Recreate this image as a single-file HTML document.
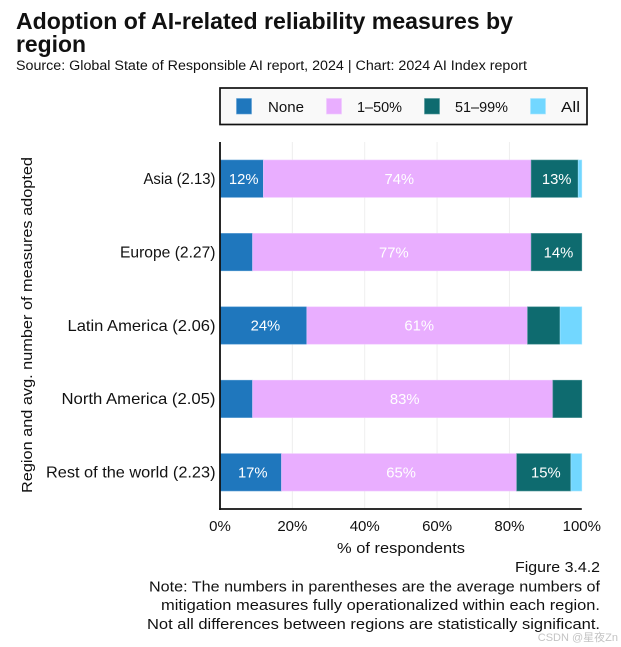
<!DOCTYPE html>
<html lang="en">
<head>
<meta charset="utf-8">
<title>Adoption of AI-related reliability measures by region</title>
<style>
html,body{margin:0;padding:0;background:#fff;width:621px;height:647px;overflow:hidden}
svg{display:block}
text{font-family:"Liberation Sans",sans-serif;fill:#111}
</style>
</head>
<body>
<svg id="chart" width="621" height="647" viewBox="0 0 621 647" xmlns="http://www.w3.org/2000/svg">
  <text x="16" y="29" font-size="23" font-weight="700" textLength="497" lengthAdjust="spacingAndGlyphs">Adoption of AI-related reliability measures by</text>
  <text x="16" y="52" font-size="23" font-weight="700" textLength="70" lengthAdjust="spacingAndGlyphs">region</text>
  <text x="16" y="70" font-size="13.5" textLength="511" lengthAdjust="spacingAndGlyphs">Source: Global State of Responsible AI report, 2024 | Chart: 2024 AI Index report</text>

  <g id="legend">
    <rect x="220" y="88" width="367" height="36.5" fill="#f9f9f9" stroke="#111" stroke-width="1.7"/>
    <rect x="236.5" y="98.5" width="15" height="15.5" fill="#1f77bd" stroke="#5d9fd4" stroke-width="0.6"/>
    <text x="268" y="112" font-size="14.5" textLength="36" lengthAdjust="spacingAndGlyphs">None</text>
    <rect x="326.5" y="98.5" width="15" height="15.5" fill="#e9aeff" stroke="#f0c8ff" stroke-width="0.6"/>
    <text x="357" y="112" font-size="14.5" textLength="45" lengthAdjust="spacingAndGlyphs">1–50%</text>
    <rect x="424.5" y="98.5" width="15" height="15.5" fill="#0e6b6f" stroke="#4f9598" stroke-width="0.6"/>
    <text x="455" y="112" font-size="14.5" textLength="53" lengthAdjust="spacingAndGlyphs">51–99%</text>
    <rect x="530.5" y="98.5" width="15" height="15.5" fill="#72d7ff" stroke="#a5e5ff" stroke-width="0.6"/>
    <text x="561" y="112" font-size="14.5" textLength="19" lengthAdjust="spacingAndGlyphs">All</text>
  </g>

  <g id="grid"></g>
  <g id="bars"></g>
  <g id="axes"></g>

  <text transform="translate(32,493) rotate(-90)" x="0" y="0" font-size="15" textLength="336" lengthAdjust="spacingAndGlyphs">Region and avg. number of measures adopted</text>
  <text x="401" y="553" text-anchor="middle" font-size="15" textLength="128" lengthAdjust="spacingAndGlyphs">% of respondents</text>

  <text x="600" y="572" text-anchor="end" font-size="15" textLength="85" lengthAdjust="spacingAndGlyphs">Figure 3.4.2</text>
  <text x="600" y="591.5" text-anchor="end" font-size="15" textLength="451" lengthAdjust="spacingAndGlyphs">Note: The numbers in parentheses are the average numbers of</text>
  <text x="600" y="610" text-anchor="end" font-size="15" textLength="439" lengthAdjust="spacingAndGlyphs">mitigation measures fully operationalized within each region.</text>
  <text x="600" y="629" text-anchor="end" font-size="15" textLength="453" lengthAdjust="spacingAndGlyphs">Not all differences between regions are statistically significant.</text>
  <text x="618" y="641" text-anchor="end" font-size="11" style="fill:#c4c4c4;font-family:'Liberation Sans','Noto Sans CJK SC',sans-serif">CSDN @星夜Zn</text>
</svg>
<script>
const regions = ["Asia (2.13)", "Europe (2.27)", "Latin America (2.06)", "North America (2.05)", "Rest of the world (2.23)"];
const seriesNames = ["None", "1–50%", "51–99%", "All"];
const none = [12, 9, 24, 9, 17];
const oneToFifty = [74, 77, 61, 83, 65];
const fiftyOneToNinetyNine = [13, 14, 9, 8, 15];
const all = [1, 0, 6, 0, 3];
const xTicks = [0, 20, 40, 60, 80, 100];

const series = [none, oneToFifty, fiftyOneToNinetyNine, all];
const colors = ["#1f77bd", "#e9aeff", "#0e6b6f", "#72d7ff"];
const edges = ["#5d9fd4", "#f0c8ff", "#4f9598", "#a5e5ff"];
const regionLabelWidth = {"Asia (2.13)": 72, "Europe (2.27)": 95.5, "Latin America (2.06)": 148, "North America (2.05)": 154, "Rest of the world (2.23)": 169.5};
const NS = "http://www.w3.org/2000/svg";
const plot = {left: 220, right: 581.8, top: 142, bottom: 509};
const xScale = v => plot.left + (plot.right - plot.left) * v / 100;
const band = (plot.bottom - plot.top) / regions.length;
const yScale = i => plot.top + band * (i + 0.5);
const barHeight = 37.4;

function mk(parent, tag, attrs, text) {
  const el = document.createElementNS(NS, tag);
  for (const k in attrs) el.setAttribute(k, attrs[k]);
  if (text !== undefined) el.textContent = text;
  parent.appendChild(el);
  return el;
}
const grid = document.getElementById("grid");
const bars = document.getElementById("bars");
const axes = document.getElementById("axes");

xTicks.forEach(t => {
  if (t === 0 || t === 100) return;
  const line = mk(grid, "line", {x1: xScale(t), x2: xScale(t), y1: plot.top, y2: plot.bottom, stroke: "#eeeeee", "stroke-width": 1});
  
  
});

regions.forEach((region, i) => {
  let cum = 0;
  series.forEach((values, s) => {
    const v = values[i];
    if (v > 0) {
      const rect = mk(bars, "rect", {x: xScale(cum), y: yScale(i) - barHeight / 2, width: xScale(cum + v) - xScale(cum), height: barHeight, fill: colors[s], stroke: edges[s], "stroke-width": 0.6});
      
      
      if (v >= 10) {
        const label = mk(bars, "text", {x: xScale(cum + v / 2) + 2, y: yScale(i) + 5.2, "text-anchor": "middle", "font-size": 14.8, style: "fill:#fff"}, v + "%");
        
        
      }
    }
    cum += v;
  });
  const rowLabel = mk(axes, "text", {x: 215.5, y: yScale(i) + 5.3, "text-anchor": "end", "font-size": 15.6, textLength: regionLabelWidth[region], lengthAdjust: "spacingAndGlyphs"}, region);
  
  
});

const yAxis = mk(axes, "line", {x1: plot.left, x2: plot.left, y1: plot.top, y2: plot.bottom + 1, stroke: "#111", "stroke-width": 1.8});


const xAxis = mk(axes, "line", {x1: plot.left - 0.9, x2: plot.right, y1: plot.bottom, y2: plot.bottom, stroke: "#111", "stroke-width": 1.8});



xTicks.forEach(t => {
  const tick = mk(axes, "text", {x: xScale(t), y: 531, "text-anchor": "middle", "font-size": 15}, t + "%");
  
  
});
</script>
</body>
</html>
